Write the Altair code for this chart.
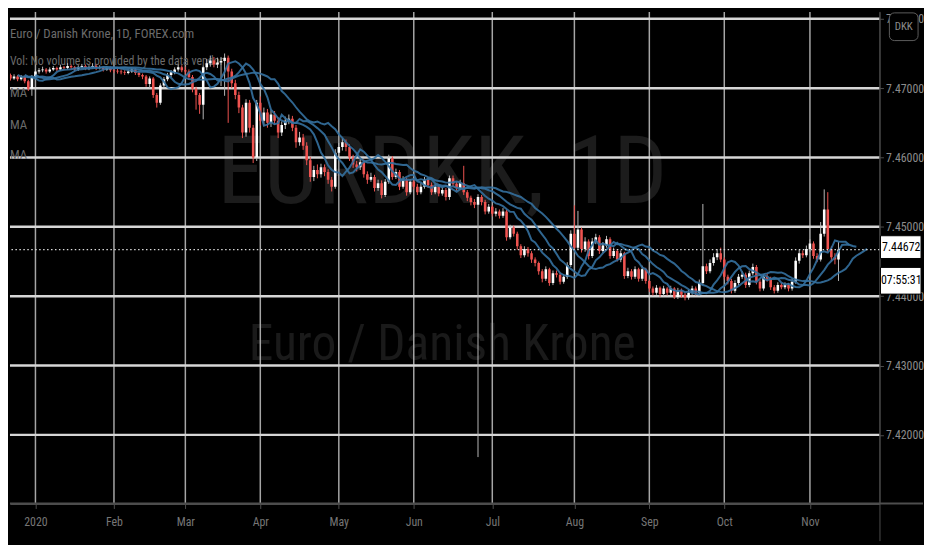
import json
import altair as alt
import pandas as pd

# ---------------- data ----------------
FIRST_OPEN = 7.4720
CLOSE = [
    7.4719, 7.4714, 7.4717, 7.4713, 7.4716, 7.4710, 7.4699, 7.4716,
    7.4724, 7.4726, 7.4727, 7.4724, 7.4727, 7.4729, 7.4727, 7.4730, 7.4729, 7.4732, 7.4730, 7.4727, 7.4730, 7.4732, 7.4729, 7.4730, 7.4732, 7.4729, 7.4730, 7.4727, 7.4729, 7.4726,
    7.4725, 7.4724, 7.4723, 7.4722, 7.4724, 7.4727, 7.4722, 7.4719, 7.4717, 7.4706, 7.4714, 7.4690, 7.4679, 7.4704, 7.4713, 7.4719, 7.4723, 7.4727, 7.4730, 7.4726,
    7.4724, 7.4716, 7.4699, 7.4690, 7.4676, 7.4730, 7.4736, 7.4740, 7.4734, 7.4737, 7.4739, 7.4744, 7.4724, 7.4707, 7.4690, 7.4672, 7.4636, 7.4679, 7.4643, 7.4600, 7.4679, 7.4653,
    7.4665, 7.4650, 7.4662, 7.4653, 7.4636, 7.4647, 7.4653, 7.4656, 7.4643, 7.4622, 7.4629, 7.4617, 7.4596, 7.4572, 7.4582, 7.4576, 7.4586, 7.4579, 7.4568, 7.4558, 7.4607, 7.4615,
    7.4622, 7.4615, 7.4600, 7.4590, 7.4586, 7.4593, 7.4576, 7.4568, 7.4572, 7.4556, 7.4563, 7.4546, 7.4565, 7.4599, 7.4572, 7.4579, 7.4558, 7.4568, 7.4550, 7.4565, 7.4558,
    7.4550, 7.4558, 7.4568, 7.4560, 7.4550, 7.4558, 7.4548, 7.4553, 7.4543, 7.4570, 7.4562, 7.4556, 7.4563, 7.4550, 7.4542, 7.4536, 7.4532, 7.4543, 7.4536, 7.4522, 7.4529, 7.4519,
    7.4522, 7.4516, 7.4522, 7.4485, 7.4499, 7.4490, 7.4472, 7.4459, 7.4468, 7.4462, 7.4453, 7.4448, 7.4436, 7.4425, 7.4439, 7.4419, 7.4433, 7.4431, 7.4421, 7.4428, 7.4445, 7.4490, 7.4470,
    7.4496, 7.4468, 7.4479, 7.4458, 7.4479, 7.4485, 7.4465, 7.4473, 7.4482, 7.4458, 7.4465, 7.4453, 7.4462, 7.4429, 7.4436, 7.4428, 7.4439, 7.4425, 7.4439, 7.4422, 7.4411,
    7.4405, 7.4412, 7.4403, 7.4411, 7.4405, 7.4411, 7.4399, 7.4408, 7.4402, 7.4398, 7.4405, 7.4411, 7.4405, 7.4419, 7.4443, 7.4436, 7.4448, 7.4456, 7.4462, 7.4453, 7.4428, 7.4422,
    7.4408, 7.4419, 7.4428, 7.4431, 7.4416, 7.4433, 7.4442, 7.4421, 7.4411, 7.4428, 7.4425, 7.4413, 7.4408, 7.4416, 7.4413, 7.4416, 7.4411, 7.4421, 7.4451, 7.4462, 7.4459, 7.4468,
    7.4476, 7.4458, 7.4453, 7.4490, 7.4525, 7.4468, 7.4456, 7.4453, 7.44672,
]
HIGH = [
    7.4724, 7.4721, 7.4720, 7.4719, 7.4719, 7.4718, 7.4712, 7.4719,
    7.4727, 7.4729, 7.4731, 7.4729, 7.4730, 7.4732, 7.4731, 7.4734, 7.4732, 7.4736, 7.4734, 7.4732, 7.4733, 7.4735, 7.4734, 7.4733, 7.4736, 7.4734, 7.4733, 7.4732, 7.4732, 7.4731,
    7.4729, 7.4728, 7.4727, 7.4726, 7.4727, 7.4730, 7.4729, 7.4724, 7.4721, 7.4719, 7.4717, 7.4716, 7.4693, 7.4707, 7.4716, 7.4722, 7.4726, 7.4730, 7.4734, 7.4733,
    7.4731, 7.4727, 7.4719, 7.4702, 7.4693, 7.4733, 7.4742, 7.4747, 7.4745, 7.4744, 7.4745, 7.4750, 7.4747, 7.4728, 7.4712, 7.4695, 7.4676, 7.4684, 7.4683, 7.4647, 7.4683, 7.4688,
    7.4672, 7.4670, 7.4668, 7.4667, 7.4658, 7.4652, 7.4659, 7.4662, 7.4660, 7.4647, 7.4637, 7.4634, 7.4622, 7.4601, 7.4588, 7.4590, 7.4591, 7.4590, 7.4583, 7.4572, 7.4612, 7.4621,
    7.4628, 7.4626, 7.4619, 7.4604, 7.4595, 7.4598, 7.4597, 7.4580, 7.4578, 7.4575, 7.4568, 7.4567, 7.4569, 7.4604, 7.4602, 7.4584, 7.4582, 7.4573, 7.4571, 7.4569, 7.4569,
    7.4562, 7.4563, 7.4572, 7.4571, 7.4564, 7.4562, 7.4561, 7.4557, 7.4556, 7.4574, 7.4574, 7.4565, 7.4568, 7.4588, 7.4553, 7.4545, 7.4540, 7.4547, 7.4546, 7.4539, 7.4533, 7.4531,
    7.4527, 7.4525, 7.4527, 7.4525, 7.4503, 7.4502, 7.4493, 7.4475, 7.4472, 7.4471, 7.4465, 7.4456, 7.4450, 7.4439, 7.4443, 7.4441, 7.4437, 7.4437, 7.4434, 7.4432, 7.4449, 7.4495, 7.4531,
    7.4523, 7.4499, 7.4485, 7.4482, 7.4484, 7.4490, 7.4488, 7.4478, 7.4487, 7.4485, 7.4470, 7.4468, 7.4466, 7.4464, 7.4441, 7.4439, 7.4443, 7.4441, 7.4444, 7.4441, 7.4424,
    7.4414, 7.4416, 7.4414, 7.4415, 7.4413, 7.4415, 7.4413, 7.4412, 7.4411, 7.4405, 7.4409, 7.4415, 7.4414, 7.4424, 7.4533, 7.4447, 7.4453, 7.4462, 7.4468, 7.4470, 7.4456, 7.4431,
    7.4425, 7.4423, 7.4432, 7.4436, 7.4434, 7.4437, 7.4447, 7.4445, 7.4424, 7.4432, 7.4433, 7.4428, 7.4416, 7.4420, 7.4419, 7.4420, 7.4419, 7.4425, 7.4456, 7.4467, 7.4466, 7.4473,
    7.4482, 7.4479, 7.4462, 7.4507, 7.4554, 7.4550, 7.4472, 7.4462, 7.4478,
]
LOW = [
    7.4714, 7.4711, 7.4712, 7.4710, 7.4711, 7.4707, 7.4696, 7.4689,
    7.4713, 7.4721, 7.4723, 7.4721, 7.4722, 7.4725, 7.4724, 7.4725, 7.4726, 7.4727, 7.4727, 7.4724, 7.4725, 7.4728, 7.4726, 7.4726, 7.4728, 7.4726, 7.4727, 7.4724, 7.4725, 7.4723,
    7.4722, 7.4721, 7.4720, 7.4719, 7.4720, 7.4722, 7.4719, 7.4716, 7.4713, 7.4702, 7.4700, 7.4686, 7.4672, 7.4676, 7.4701, 7.4710, 7.4716, 7.4720, 7.4724, 7.4723,
    7.4720, 7.4712, 7.4694, 7.4669, 7.4663, 7.4655, 7.4726, 7.4731, 7.4730, 7.4729, 7.4703, 7.4689, 7.4650, 7.4700, 7.4684, 7.4664, 7.4628, 7.4630, 7.4636, 7.4592, 7.4595, 7.4646,
    7.4645, 7.4643, 7.4644, 7.4647, 7.4628, 7.4631, 7.4641, 7.4648, 7.4638, 7.4614, 7.4617, 7.4611, 7.4589, 7.4565, 7.4566, 7.4570, 7.4571, 7.4573, 7.4562, 7.4551, 7.4555, 7.4602,
    7.4610, 7.4609, 7.4595, 7.4585, 7.4580, 7.4582, 7.4571, 7.4562, 7.4565, 7.4551, 7.4552, 7.4541, 7.4543, 7.4562, 7.4568, 7.4569, 7.4553, 7.4555, 7.4545, 7.4547, 7.4554,
    7.4546, 7.4547, 7.4555, 7.4556, 7.4546, 7.4547, 7.4544, 7.4545, 7.4538, 7.4539, 7.4558, 7.4552, 7.4553, 7.4546, 7.4537, 7.4531, 7.4527, 7.4168, 7.4531, 7.4518, 7.4519, 7.4515,
    7.4515, 7.4512, 7.4513, 7.4480, 7.4482, 7.4486, 7.4467, 7.4455, 7.4456, 7.4457, 7.4448, 7.4443, 7.4431, 7.4420, 7.4422, 7.4415, 7.4416, 7.4427, 7.4417, 7.4418, 7.4425, 7.4442, 7.4466,
    7.4467, 7.4463, 7.4464, 7.4453, 7.4455, 7.4475, 7.4461, 7.4462, 7.4470, 7.4454, 7.4455, 7.4450, 7.4449, 7.4425, 7.4426, 7.4424, 7.4425, 7.4421, 7.4422, 7.4418, 7.4406,
    7.4401, 7.4402, 7.4399, 7.4400, 7.4401, 7.4402, 7.4396, 7.4396, 7.4398, 7.4394, 7.4395, 7.4402, 7.4401, 7.4402, 7.4416, 7.4432, 7.4433, 7.4444, 7.4452, 7.4449, 7.4424, 7.4417,
    7.4404, 7.4405, 7.4416, 7.4425, 7.4412, 7.4413, 7.4430, 7.4417, 7.4407, 7.4408, 7.4421, 7.4409, 7.4404, 7.4405, 7.4410, 7.4410, 7.4407, 7.4408, 7.4418, 7.4447, 7.4455, 7.4456,
    7.4464, 7.4454, 7.4449, 7.4450, 7.4486, 7.4463, 7.4450, 7.4446, 7.4422,
]
MONTH_BAR = [8, 30, 50, 71, 93, 114, 136, 159, 180, 201, 225]
MONTH_LABEL = ["2020", "Feb", "Mar", "Apr", "May", "Jun", "Jul", "Aug", "Sep", "Oct", "Nov"]
PRICE_TICKS = [7.42, 7.43, 7.44, 7.45, 7.46, 7.47, 7.48]
MA_SPECS = [(5, 3), (8, 5), (13, 8)]  # (length, forward offset in bars)
COUNTDOWN = "07:55:31"

# ---------------- table ----------------
n = len(CLOSE)
opens = [FIRST_OPEN] + CLOSE[:-1]
df = pd.DataFrame({
    "idx": list(range(n)),
    "open": opens,
    "close": CLOSE,
    "high": [max(h, o, c) for h, o, c in zip(HIGH, opens, CLOSE)],
    "low": [min(l, o, c) for l, o, c in zip(LOW, opens, CLOSE)],
})

FONT = "Liberation Sans Narrow, Roboto Condensed, Arial Narrow, Roboto, sans-serif"
W, H = 879, 497
XS = alt.Scale(domain=[2.25, 243.1], nice=False, zero=False)
YS = alt.Scale(domain=[7.4101, 7.4810], nice=False, zero=False)

label_expr = "{}[indexof({}, datum.value)]".format(json.dumps(MONTH_LABEL), json.dumps(MONTH_BAR))
XAX = alt.Axis(values=MONTH_BAR, labelExpr=label_expr, grid=False, title=None,
               domainColor="#4d4d4d", domainWidth=2, tickColor="#4d4d4d", tickSize=5,
               labelColor="#767676", labelFont=FONT, labelFontSize=12, labelPadding=8,
               labelFlush=False, labelOverlap=False)
YAX = alt.Axis(orient="right", values=PRICE_TICKS, format=".5f", grid=False, title=None,
               domainColor="#4d4d4d", tickColor="#4d4d4d", tickSize=4,
               labelColor="#8c8c8c", labelFont=FONT, labelFontSize=12, labelPadding=2,
               labelOverlap=False)


def xq(field):
    return alt.X(field, type="quantitative", scale=XS, axis=XAX, title=None)


def yq(field):
    return alt.Y(field, type="quantitative", scale=YS, axis=YAX, title=None)


layers = []

# watermark
layers.append(alt.Chart(pd.DataFrame({"a": [0]})).mark_text(
    text="EURDKK, 1D", font=FONT, fontSize=96, color="#1c1c1c", align="center", baseline="middle"
).encode(x=alt.value(437), y=alt.value(164)))
layers.append(alt.Chart(pd.DataFrame({"a": [0]})).mark_text(
    text="Euro / Danish Krone", font=FONT, fontSize=50, color="#1a1a1a", align="center", baseline="middle"
).encode(x=alt.value(437), y=alt.value(337)))

# grid lines
layers.append(alt.Chart(pd.DataFrame({"m": MONTH_BAR})).mark_rule(
    color="#a6a6a6", strokeWidth=1.5).encode(x=xq("m")))
layers.append(alt.Chart(pd.DataFrame({"p": PRICE_TICKS})).mark_rule(
    color="#d6d6d6", strokeWidth=2.5).encode(y=yq("p")))

# legend texts
for txt, yy, fs in [("Euro / Danish Krone, 1D, FOREX.com", 22, 13),
                    ("Vol: No volume is provided by the data vendor", 50, 12),
                    ("MA", 82, 13), ("MA", 114, 13), ("MA", 145, 13)]:
    layers.append(alt.Chart(pd.DataFrame({"a": [0]})).mark_text(
        text=txt, font=FONT, fontSize=fs, color="#6b6b6b", align="left", baseline="middle"
    ).encode(x=alt.value(0), y=alt.value(yy)))

up = "datum.close >= datum.open"
candles = alt.Chart(df)
layers.append(candles.mark_rule(strokeWidth=1, clip=True).encode(
    x=xq("idx"), y=yq("low"), y2="high:Q",
    color=alt.condition(up, alt.value("#b8b8b8"), alt.value("#ef5350"))))
layers.append(candles.mark_bar(width=2.6, clip=True).encode(
    x=xq("idx"), y=yq("open"), y2="close:Q",
    color=alt.condition(up, alt.value("#ffffff"), alt.value("#ef5350"))))

# moving averages (shifted forward)
for length, off in MA_SPECS:
    layers.append(alt.Chart(df).transform_window(
        ma="mean(close)", frame=[-(length - 1), 0], sort=[alt.SortField("idx")]
    ).transform_calculate(xs=f"datum.idx + {off}").mark_line(
        color="#34709f", strokeWidth=2, opacity=0.9, clip=True
    ).encode(x=xq("xs"), y=yq("ma")))

# last price
last = pd.DataFrame({"p": [CLOSE[-1]], "lbl": [f"{CLOSE[-1]:.5f}"], "t": [COUNTDOWN]})
layers.append(alt.Chart(last).mark_rule(color="#d9d9d9", strokeWidth=1.2, strokeDash=[1.5, 2.5]).encode(y=yq("p")))

# right side frame lines
layers.append(alt.Chart(pd.DataFrame({"a": [0]})).mark_rule(color="#4d4d4d", strokeWidth=1).encode(
    x=alt.value(879.5), y=alt.value(0), y2=alt.value(535)))
layers.append(alt.Chart(pd.DataFrame({"a": [0]})).mark_rule(color="#4d4d4d", strokeWidth=2).encode(
    x=alt.value(0), x2=alt.value(923), y=alt.value(497)))

# price label boxes
layers.append(alt.Chart(last).mark_rect(fill="white", stroke="black", strokeWidth=1, yOffset=-14, y2Offset=9).encode(
    x=alt.value(880), x2=alt.value(921), y=yq("p"), y2="p:Q"))
layers.append(alt.Chart(last).mark_text(font=FONT, fontSize=12, color="black", align="center", baseline="middle", dy=-3).encode(
    x=alt.value(901), y=yq("p"), text="lbl:N"))
layers.append(alt.Chart(last).mark_rect(fill="white", stroke="black", strokeWidth=1, yOffset=18, y2Offset=45).encode(
    x=alt.value(880), x2=alt.value(921), y=yq("p"), y2="p:Q"))
layers.append(alt.Chart(last).mark_text(font=FONT, fontSize=12, color="black", align="center", baseline="middle", dy=31).encode(
    x=alt.value(901), y=yq("p"), text="t:N"))

# currency badge
layers.append(alt.Chart(pd.DataFrame({"a": [0]})).mark_rect(fill="black", stroke="#5c5c5c", strokeWidth=1, cornerRadius=5).encode(
    x=alt.value(889), x2=alt.value(918), y=alt.value(1), y2=alt.value(29)))
layers.append(alt.Chart(pd.DataFrame({"a": [0]})).mark_text(
    text="DKK", font=FONT, fontSize=11, color="#8c8c8c", align="center", baseline="middle"
).encode(x=alt.value(903.5), y=alt.value(15)))

chart = alt.layer(*layers).properties(
    width=W, height=H, padding=0, background="#000000"
).configure_view(stroke=None)

chart.save("out.html", embed_options={"renderer": "svg", "actions": False})
